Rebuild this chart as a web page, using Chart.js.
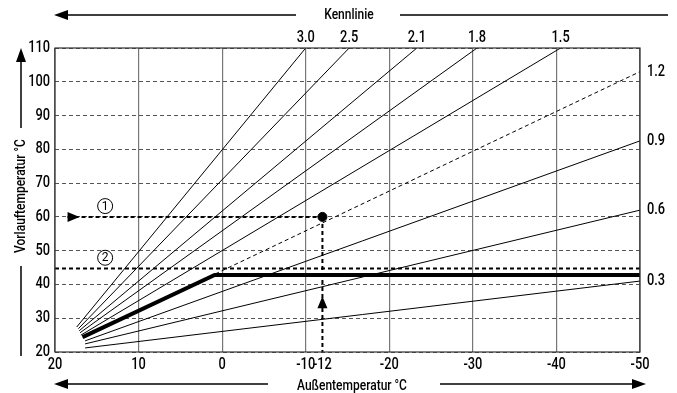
<!DOCTYPE html>
<html>
<head>
<meta charset="utf-8">
<script src="https://cdn.jsdelivr.net/npm/chart.js@4.4.1/dist/chart.umd.min.js"></script>
<style>
  html, body { margin: 0; padding: 0; background: #fff; }
  #wrap { width: 677px; height: 393px; }
</style>
</head>
<body>
<div id="wrap"><canvas id="chart" width="677" height="393"></canvas></div>
<script>
// Heizkennlinien: Name, Start- und Endpunkt (Außentemp., Vorlauftemp.)
const curveNames  = ['3.0', '2.5', '2.1', '1.8', '1.5', '1.2', '0.9', '0.6', '0.3'];
const curveStartX = [17.4, 17.2, 17.1, 17.0, 16.9, 16.7, 16.4, 16.4, 16.4];
const curveStartY = [27.4, 26.9, 26.3, 25.7, 25.0, 24.4, 23.3, 22.4, 21.2];
const curveEndX   = [-10, -15.2, -23.3, -30.5, -40.5, -50, -50, -50, -50];
const curveEndY   = [110, 110, 110, 110, 110, 103, 82.5, 62, 41];

// begrenzte Kennlinie (dick)
const limitX = [16.7, 0.9, -50];
const limitY = [24.4, 42.8, 42.8];

// Beispiel 1 und 2
const example1X = [18.5, -12];
const example1Y = [60, 60];
const example1DropX = [-12, -12];
const example1DropY = [60, 20];
const example2X = [20, -50];
const example2Y = [44.7, 44.7];
const markerLabels = ['1', '2'];
const markerX = [14, 14];
const markerY = [63.2, 47.9];

const xTicks = [20, 10, 0, -10, -12, -20, -30, -40, -50];
const yTicks = [20, 30, 40, 50, 60, 70, 80, 90, 100, 110];

const FONT = "Roboto, 'Liberation Sans', sans-serif";
const NARROW = 0.8;

const datasets = [];
curveNames.forEach((name, i) => {
    datasets.push({
        label: name,
        data: [{ x: curveStartX[i], y: curveStartY[i] }, { x: curveEndX[i], y: curveEndY[i] }],
        borderColor: '#000',
        borderWidth: 1,
        borderDash: name === '1.2' ? [4, 3] : [],
        pointRadius: 0
    });
});
datasets.push({
    label: 'limit',
    data: limitX.map((x, i) => ({ x, y: limitY[i] })),
    borderColor: '#000',
    borderWidth: 4,
    pointRadius: 0
});
datasets.push({
    label: 'ex2',
    data: example2X.map((x, i) => ({ x, y: example2Y[i] })),
    borderColor: '#000',
    borderWidth: 2,
    borderDash: [4, 3],
    pointRadius: 0
});
datasets.push({
    label: 'ex1',
    data: example1X.map((x, i) => ({ x, y: example1Y[i] })),
    borderColor: '#000',
    borderWidth: 2,
    borderDash: [4, 3],
    pointRadius: 0
});
datasets.push({
    label: 'ex1drop',
    data: example1DropX.map((x, i) => ({ x, y: example1DropY[i] })),
    borderColor: '#000',
    borderWidth: 2,
    borderDash: [4, 3],
    pointRadius: 0
});
datasets.push({
    label: 'dot',
    data: [{ x: -12, y: 60 }],
    showLine: false,
    pointRadius: 4.5,
    pointBackgroundColor: '#000',
    pointBorderColor: '#000'
});

function arrowHead(ctx, x, y, dir, len, half) {
    ctx.beginPath();
    if (dir === 'left') { ctx.moveTo(x, y); ctx.lineTo(x + len, y - half); ctx.lineTo(x + len, y + half); }
    if (dir === 'right') { ctx.moveTo(x, y); ctx.lineTo(x - len, y - half); ctx.lineTo(x - len, y + half); }
    if (dir === 'up') { ctx.moveTo(x, y); ctx.lineTo(x - half, y + len); ctx.lineTo(x + half, y + len); }
    ctx.closePath();
    ctx.fill();
}

// schmale Schrift nachbilden
function narrowText(ctx, text, x, y, sx) {
    ctx.save();
    ctx.translate(x, y);
    ctx.scale(sx, 1);
    ctx.fillText(text, 0, 0);
    ctx.restore();
}

const decorations = {
    id: 'decorations',
    afterDatasetsDraw(chart) {
        const { ctx, chartArea: a, scales: { x: xs, y: ys } } = chart;
        ctx.save();
        // Rahmen
        ctx.strokeStyle = '#333';
        ctx.lineWidth = 1.2;
        ctx.setLineDash([]);
        ctx.strokeRect(a.left, a.top, a.right - a.left, a.bottom - a.top);

        ctx.fillStyle = '#000';
        ctx.strokeStyle = '#000';

        // Achsenbeschriftung
        ctx.font = '500 16px ' + FONT;
        ctx.textAlign = 'center';
        ctx.textBaseline = 'middle';
        xs.ticks.forEach(t => {
            narrowText(ctx, String(t.value), xs.getPixelForValue(t.value), a.bottom + 13, NARROW);
        });
        ctx.textAlign = 'right';
        ys.ticks.forEach(t => {
            narrowText(ctx, String(t.value), a.left - 5, ys.getPixelForValue(t.value), NARROW);
        });

        // Beschriftung der Kennlinien
        curveNames.forEach((name, i) => {
            const px = xs.getPixelForValue(curveEndX[i]);
            const py = ys.getPixelForValue(curveEndY[i]);
            if (curveEndY[i] >= 110) {
                ctx.textAlign = 'center';
                ctx.textBaseline = 'bottom';
                narrowText(ctx, name, px, py - 2, NARROW);
            } else {
                ctx.textAlign = 'left';
                ctx.textBaseline = 'middle';
                narrowText(ctx, name, a.right + 7, py, NARROW);
            }
        });

        // Pfeile an den Beispielen
        arrowHead(ctx, xs.getPixelForValue(example1X[0]) + 12, ys.getPixelForValue(60), 'right', 12, 5);
        arrowHead(ctx, xs.getPixelForValue(-12), ys.getPixelForValue(36.5), 'up', 12, 5);

        // eingekreiste Ziffern
        ctx.lineWidth = 1;
        ctx.font = '12px ' + FONT;
        ctx.textAlign = 'center';
        ctx.textBaseline = 'middle';
        markerLabels.forEach((m, i) => {
            const cx = xs.getPixelForValue(markerX[i]);
            const cy = ys.getPixelForValue(markerY[i]);
            ctx.fillStyle = '#fff';
            ctx.beginPath();
            ctx.arc(cx, cy, 7.5, 0, Math.PI * 2);
            ctx.fill();
            ctx.stroke();
            ctx.fillStyle = '#000';
            ctx.fillText(m, cx, cy + 0.5);
        });

        // Kennlinie (oben)
        ctx.font = '500 15px ' + FONT;
        ctx.lineWidth = 1.5;
        const topY = 15;
        narrowText(ctx, 'Kennlinie', 349, topY, NARROW);
        ctx.beginPath();
        ctx.moveTo(64, topY); ctx.lineTo(296, topY);
        ctx.moveTo(400, topY); ctx.lineTo(668, topY);
        ctx.stroke();
        arrowHead(ctx, 54, topY, 'left', 14, 5);

        // Außentemperatur (unten)
        const botY = 384;
        narrowText(ctx, 'Außentemperatur °C', 352, botY + 2, NARROW);
        ctx.beginPath();
        ctx.moveTo(64, botY); ctx.lineTo(268, botY);
        ctx.moveTo(440, botY); ctx.lineTo(636, botY);
        ctx.stroke();
        arrowHead(ctx, 54, botY, 'left', 14, 5);
        arrowHead(ctx, 646, botY, 'right', 14, 5);

        // Vorlauftemperatur (links)
        const lx = 21;
        ctx.save();
        ctx.translate(lx, 196);
        ctx.rotate(-Math.PI / 2);
        narrowText(ctx, 'Vorlauftemperatur °C', 0, 0, NARROW);
        ctx.restore();
        ctx.beginPath();
        ctx.moveTo(lx, 60); ctx.lineTo(lx, 128);
        ctx.moveTo(lx, 266); ctx.lineTo(lx, 356);
        ctx.stroke();
        arrowHead(ctx, lx, 48, 'up', 14, 5);

        ctx.restore();
    }
};

new Chart(document.getElementById('chart'), {
    type: 'line',
    data: { datasets },
    options: {
        responsive: false,
        animation: false,
        layout: { padding: { top: 48, right: 37, left: 0, bottom: 0 } },
        plugins: { legend: { display: false }, tooltip: { enabled: false } },
        scales: {
            x: {
                type: 'linear',
                reverse: true,
                min: -50,
                max: 20,
                afterBuildTicks: s => { s.ticks = xTicks.map(v => ({ value: v })); },
                afterFit: s => { s.height = 41; },
                ticks: { display: false, autoSkip: false },
                grid: {
                    drawTicks: false,
                    color: c => (c.tick && (c.tick.value === -12)) ? 'rgba(0,0,0,0)' : '#777',
                    lineWidth: 1.2
                },
                border: { display: false }
            },
            y: {
                type: 'linear',
                min: 20,
                max: 110,
                afterBuildTicks: s => { s.ticks = yTicks.map(v => ({ value: v })); },
                afterFit: s => { s.width = 55; },
                ticks: { display: false },
                grid: {
                    drawTicks: false,
                    color: '#555',
                    lineWidth: 1
                },
                border: { display: false, dash: [4, 3] }
            }
        }
    },
    plugins: [decorations]
});
</script>
</body>
</html>
